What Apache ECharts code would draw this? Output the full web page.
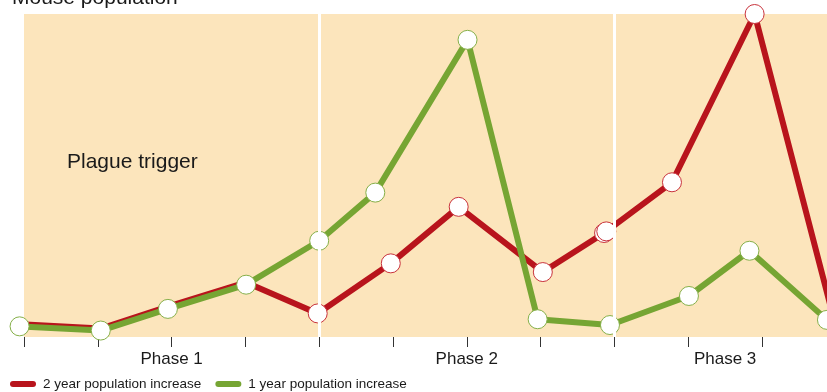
<!DOCTYPE html>
<html>
<head>
<meta charset="utf-8">
<script src="https://cdn.jsdelivr.net/npm/echarts@6/dist/echarts.min.js"></script>
<style>
  html, body { margin: 0; padding: 0; background: #ffffff; }
  #chart { width: 827px; height: 392px; }
</style>
</head>
<body>
<div id="chart"></div>
<script>
// Period positions (one unit per tick) and population index values
const oneYearX = [-0.06, 1.04, 1.95, 3.01, 4.00, 4.76, 6.01, 6.96, 7.94, 9.01, 9.83, 10.88];
const oneYearVals = [3.3, 2.0, 8.7, 16.2, 29.8, 44.7, 92.0, 5.5, 3.7, 12.7, 26.7, 5.3];

const twoYearX = [-0.06, 1.04, 1.95, 3.01, 3.98, 4.97, 5.89, 7.03, 7.86, 7.89, 8.78, 9.90, 10.98];
const twoYearVals = [4.0, 2.6, 9.4, 16.9, 7.3, 22.8, 40.3, 20.1, 32.2, 32.7, 47.9, 100.0, 5.0];

const phaseNames = ['Phase 1', 'Phase 2', 'Phase 3'];
const phaseCentres = [2, 6, 9.5];
const phaseBoundaries = [4, 8];

const seriesNames = ['2 year population increase', '1 year population increase'];
const chartTitle = 'Mouse population';
const noteText = 'Plague trigger';

const RED = '#b8141c';
const GREEN = '#76a533';
const BG = '#fce5bc';
const X_MAX = 805 / 73.8;
const FONT = '"Liberation Sans", Arial, sans-serif';

// Where both lines share a period, the 1-year marker sits on top,
// so the 2-year line skips its own marker there.
const twoYearData = twoYearX.map((x, i) => {
  const shared = oneYearX.includes(x);
  return shared ? { value: [x, twoYearVals[i]], symbol: 'none' } : [x, twoYearVals[i]];
});
const oneYearData = oneYearX.map((x, i) => [x, oneYearVals[i]]);

const chart = echarts.init(document.getElementById('chart'), null, { renderer: 'canvas' });

chart.setOption({
  animation: false,
  backgroundColor: '#ffffff',
  grid: {
    left: 24, right: -2, top: 14, bottom: 55,
    outerBoundsMode: 'none',
    containLabel: false,
    show: true, backgroundColor: BG, borderWidth: 0
  },
  xAxis: [
    {
      type: 'value', min: 0, max: X_MAX, interval: 1,
      axisLine: { show: false },
      axisTick: { show: true, length: 10, lineStyle: { color: '#333', width: 1 } },
      axisLabel: { show: false },
      splitLine: { show: false }
    },
    {
      type: 'value', position: 'bottom', min: 0, max: X_MAX, interval: 0.5,
      axisLine: { show: false },
      axisTick: { show: false },
      splitLine: { show: false },
      axisLabel: {
        show: true, margin: 14,
        color: '#1a1a1a',
        fontFamily: FONT,
        fontSize: 17,
        formatter: (v) => {
          const i = phaseCentres.findIndex(c => Math.abs(c - v) < 1e-6);
          return i >= 0 ? phaseNames[i] : '';
        }
      }
    }
  ],
  yAxis: { type: 'value', min: 0, max: 100, show: false },
  legend: {
    left: 5, top: 377, padding: [0, 5, 0, 5],
    icon: 'path://M3,0 H23 A3,3 0 0 1 23,6 H3 A3,3 0 0 1 3,0 Z',
    itemWidth: 26, itemHeight: 6, itemGap: 14,
    textStyle: {
      color: '#1a1a1a', fontSize: 13.5, fontFamily: FONT,
      padding: [0, 0, 0, 2]
    },
    data: [
      { name: seriesNames[0], itemStyle: { color: RED, borderWidth: 0 } },
      { name: seriesNames[1], itemStyle: { color: GREEN, borderWidth: 0 } }
    ]
  },
  graphic: [
    {
      type: 'text', left: 12, top: -12, silent: true,
      style: { text: chartTitle, fill: '#1a1a1a', fontSize: 21, fontFamily: FONT }
    },
    {
      type: 'text', left: 67, top: 152, silent: true, z: 5,
      style: { text: noteText, fill: '#1a1a1a', fontSize: 21, fontFamily: FONT }
    }
  ],
  series: [
    {
      // white dividers between phases
      type: 'line', data: [], z: 1, silent: true,
      markLine: {
        silent: true, symbol: 'none', label: { show: false },
        lineStyle: { color: '#ffffff', width: 3, type: 'solid' },
        data: phaseBoundaries.map(b => ({ xAxis: b }))
      }
    },
    {
      name: seriesNames[0], type: 'line', z: 3, clip: false,
      data: twoYearData,
      symbol: 'circle', symbolSize: 19, showAllSymbol: true,
      lineStyle: { color: RED, width: 6, cap: 'round', join: 'round' },
      itemStyle: { color: '#ffffff', borderColor: '#c9333c', borderWidth: 1 }
    },
    {
      name: seriesNames[1], type: 'line', z: 4, clip: false,
      data: oneYearData,
      symbol: 'circle', symbolSize: 19, showAllSymbol: true,
      lineStyle: { color: GREEN, width: 6, cap: 'round', join: 'round' },
      itemStyle: { color: '#ffffff', borderColor: '#86b04a', borderWidth: 1 }
    }
  ]
});
</script>
</body>
</html>
